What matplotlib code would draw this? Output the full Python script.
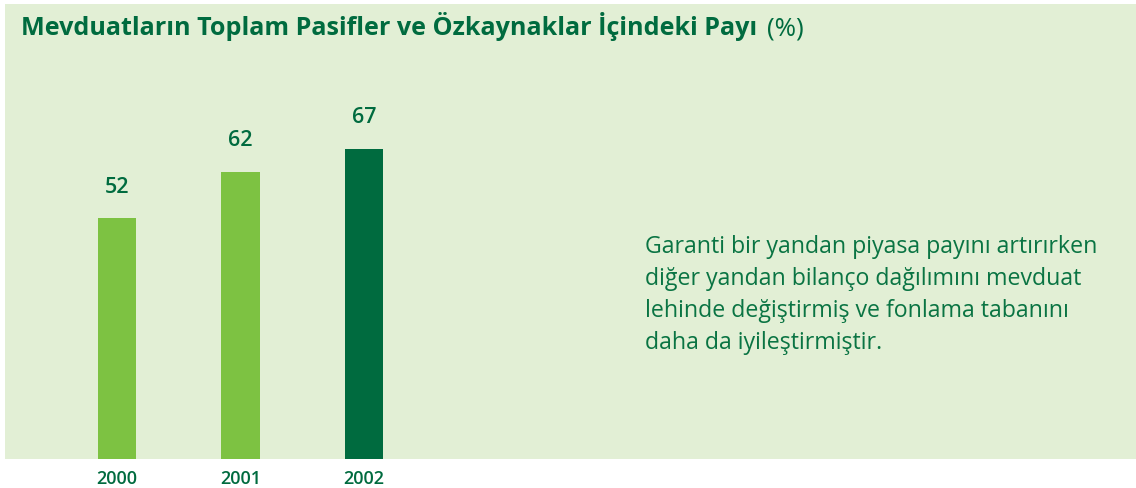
import matplotlib
matplotlib.use("Agg")
import matplotlib.pyplot as plt

plt.rcParams['font.family'] = ['Open Sans', 'DejaVu Sans']

# data
years = ["2000", "2001", "2002"]
shares = [52, 62, 67]
bar_colors = ["#7DC242", "#7DC242", "#006B3F"]
title = "Mevduatların Toplam Pasifler ve Özkaynaklar İçindeki Payı"
title_unit = "(%)"
note_lines = [
    "Garanti bir yandan piyasa payını artırırken",
    "diğer yandan bilanço dağılımını mevduat",
    "lehinde değiştirmiş ve fonlama tabanını",
    "daha da iyileştirmiştir.",
]

bg = "#E2EFD5"
dark = "#006B3F"
W, H = 1136, 488

fig = plt.figure(figsize=(W / 100, H / 100), dpi=100)
fig.patch.set_facecolor("white")

# green panel = the axes
ax = fig.add_axes([5 / W, 29 / H, 1131 / W, 455 / H])
ax.set_facecolor(bg)
for s in ax.spines.values():
    s.set_visible(False)

x = list(range(len(years)))
ax.bar(x, shares, width=0.308, color=bar_colors)
ax.set_xlim(-0.907, 8.251)
ax.set_ylim(0, 98.3)
ax.set_yticks([])
ax.set_xticks(x, years)
ax.tick_params(axis='x', length=0, pad=18, labelsize=13, labelcolor=dark)
for lab in ax.get_xticklabels():
    lab.set_fontweight('semibold')
    lab.set_va('baseline')

for i, v in enumerate(shares):
    ax.annotate(str(v), (i, v), xytext=(0, 18.4), textcoords='offset points',
                ha='center', va='baseline', fontsize=15.5, fontweight='semibold', color=dark)

renderer = fig.canvas.get_renderer()


def fit(t, width_px):
    bb = t.get_window_extent(renderer)
    t.set_fontsize(t.get_fontsize() * width_px / bb.width)
    return t.get_fontsize()


# title
t1 = fig.text(21 / W, 1 - 35 / H, title, fontsize=17, fontweight='bold',
              color=dark, va='baseline')
fit(t1, 736)
t2 = fig.text(767 / W, 1 - 35 / H, title_unit, fontsize=15, color=dark, va='baseline')
fit(t2, 37)

# side note
lines = []
for k, line in enumerate(note_lines):
    lines.append(fig.text(645 / W, 1 - (253 + 32 * k) / H, line, fontsize=16,
                          color="#0A7443", va='baseline'))
fs = fit(lines[0], 453)
for t in lines[1:]:
    t.set_fontsize(fs)

fig.savefig("out.png", dpi=100, facecolor="white")
